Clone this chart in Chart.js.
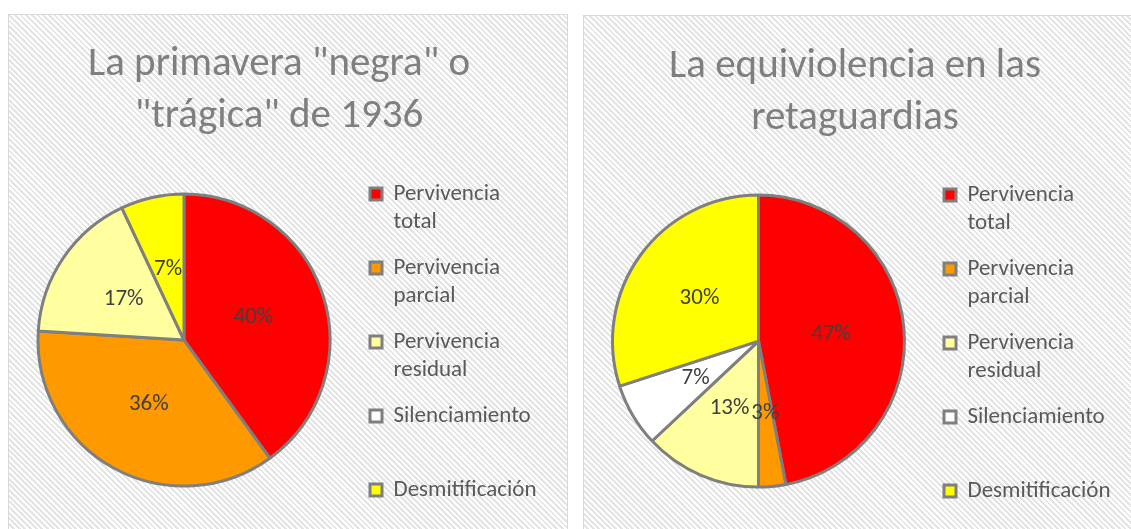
<!DOCTYPE html>
<html>
<head>
<meta charset="utf-8">
<script src="https://cdn.jsdelivr.net/npm/chart.js@4.4.1/dist/chart.umd.min.js"></script>
<style>
  html, body { margin: 0; padding: 0; width: 1131px; height: 529px; overflow: hidden; background: #fff; }
  .panel {
    position: absolute; box-sizing: border-box; border: 1.5px solid #d9d9d9;
    background: repeating-linear-gradient(45deg, #fff 0, #fff 2px, #e4e4e4 2px, #e4e4e4 4px);
  }
  .chartbox { position: absolute; }
</style>
</head>
<body>
<div class="panel" style="left:8px;top:14px;width:560px;height:600px"></div>
<div class="panel" style="left:583px;top:15px;width:600px;height:600px"></div>
<div class="chartbox" style="left:8px;top:14px;width:560px;height:600px"><canvas id="chart1"></canvas></div>
<div class="chartbox" style="left:583px;top:14px;width:560px;height:600px"><canvas id="chart2"></canvas></div>
<script>
const categories = [
  ["Pervivencia", "total"],
  ["Pervivencia", "parcial"],
  ["Pervivencia", "residual"],
  ["Silenciamiento"],
  ["Desmitificación"]
];
const sliceColors = ["#ff0000", "#ff9900", "#ffffa0", "#ffffff", "#ffff00"];

const title1 = ['La primavera "negra" o', '"trágica" de 1936'];
const values1 = [40, 36, 17, 0, 7];

const title2 = ["La equiviolencia en las", "retaguardias"];
const values2 = [47, 3, 13, 7, 30];

const FONT = "Carlito, Calibri, Lato, 'Open Sans', sans-serif";

// percentage labels in the middle of each slice
const sliceLabels = {
  id: "sliceLabels",
  afterDatasetsDraw(chart) {
    const ctx = chart.ctx;
    const values = chart.data.datasets[0].data;
    const total = values.reduce((a, b) => a + b, 0);
    chart.getDatasetMeta(0).data.forEach((arc, i) => {
      if (!values[i]) return;
      const p = arc.getCenterPoint();
      ctx.save();
      ctx.font = "23px " + FONT;
      ctx.fillStyle = "#404040";
      ctx.textAlign = "center";
      ctx.textBaseline = "middle";
      ctx.fillText(Math.round(values[i] / total * 100) + "%", p.x, p.y);
      ctx.restore();
    });
  }
};

const makeChart = (id, titleLines, values, titleTop, pad, legendWidth) => {
  return new Chart(document.getElementById(id), {
    type: "pie",
    data: {
      labels: categories,
      datasets: [{
        data: values,
        backgroundColor: sliceColors,
        borderColor: "#7f7f7f",
        borderWidth: 3
      }]
    },
    options: {
      responsive: true,
      maintainAspectRatio: false,
      animation: false,
      radius: 146,
      layout: { padding: pad },
      plugins: {
        title: {
          display: true,
          text: titleLines,
          color: "#7f7f7f",
          font: { family: FONT, size: 41, weight: "normal", lineHeight: 1.27 },
          padding: { top: titleTop, bottom: 8 }
        },
        legend: {
          position: "right",
          fullSize: false,
          maxWidth: legendWidth,
          title: { display: true, text: "", padding: 0, font: { size: 9, lineHeight: 1 } },
          labels: {
            color: "#595959",
            font: { family: FONT, size: 23, lineHeight: 28 / 23 },
            boxWidth: 12,
            boxHeight: 12,
            padding: 18,
            generateLabels(chart) {
              const items = Chart.overrides.pie.plugins.legend.labels.generateLabels(chart);
              items.forEach((item, i) => {
                const t = chart.data.labels[i].slice();
                // every entry but the last takes two lines of space
                if (i < items.length - 1 && t.length < 2) t.push("");
                item.text = t;
              });
              return items;
            }
          }
        },
        tooltip: { enabled: false }
      }
    },
    plugins: [sliceLabels]
  });
};

makeChart("chart1", title1, values1, 25, { left: 8, right: 26, top: 0, bottom: 85 }, 190);
makeChart("chart2", title2, values2, 27, { left: 8, right: 24, top: 0, bottom: 85 }, 193);
</script>
</body>
</html>
